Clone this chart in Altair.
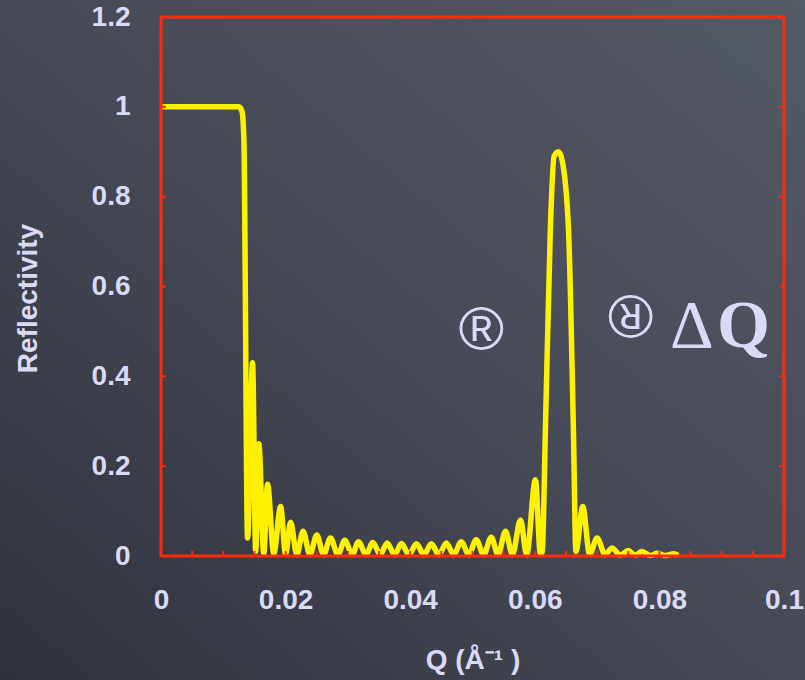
import altair as alt
import pandas as pd

# Reflectivity curve: momentum transfer Q (1/Å) and reflectivity R
q_vals = [
    0.0, 0.0125, 0.0130, 0.0133, 0.0139, 0.0147, 0.0152, 0.0157, 0.0165, 0.0171,
    0.0181, 0.0192, 0.0200, 0.0208, 0.0218, 0.0228, 0.0239, 0.0250, 0.0261, 0.0272,
    0.0284, 0.0295, 0.0307, 0.0317, 0.0329, 0.0340, 0.0352, 0.0363, 0.0375, 0.0386,
    0.0398, 0.0410, 0.0422, 0.0434, 0.0446, 0.0458, 0.0470, 0.0482, 0.0494, 0.0506,
    0.0518, 0.0530, 0.0541, 0.0553, 0.0564, 0.0577, 0.0587, 0.0601, 0.0609, 0.0612,
    0.0617, 0.0625, 0.0631, 0.0638, 0.0644, 0.0654, 0.0662, 0.0666, 0.0677, 0.0688,
    0.0700, 0.0713, 0.0724, 0.0737, 0.0750, 0.0761, 0.0772, 0.0785, 0.0797, 0.0810,
    0.0823, 0.0830,
]
r_vals = [
    1.0, 1.0, 0.99, 0.93, 0.04, 0.43, 0.01, 0.25, 0.005, 0.16,
    0.005, 0.11, 0.004, 0.075, 0.003, 0.055, 0.003, 0.047, 0.003, 0.040,
    0.003, 0.035, 0.003, 0.032, 0.003, 0.030, 0.003, 0.029, 0.003, 0.028,
    0.003, 0.027, 0.003, 0.027, 0.003, 0.029, 0.003, 0.032, 0.003, 0.036,
    0.003, 0.042, 0.003, 0.055, 0.003, 0.080, 0.003, 0.17, 0.003, 0.01,
    0.28, 0.73, 0.89, 0.90, 0.88, 0.73, 0.28, 0.01, 0.11, 0.004,
    0.04, 0.003, 0.018, 0.002, 0.012, 0.002, 0.010, 0.001, 0.006, 0.001,
    0.005, 0.001,
]

# Axis ticks
x_label_vals = [0.0, 0.02, 0.04, 0.06, 0.08, 0.1]
x_minor_ticks = [0.005, 0.01, 0.015, 0.02, 0.025, 0.03, 0.035, 0.04, 0.045, 0.05,
                 0.055, 0.06, 0.065, 0.07, 0.075, 0.08, 0.085, 0.09, 0.095]
y_label_vals = [0.0, 0.2, 0.4, 0.6, 0.8, 1.0, 1.2]
y_ticks = [0.2, 0.4, 0.6, 0.8, 1.0]

# Annotations
mark_q = [0.0514, 0.0754]
mark_r = [0.50, 0.538]
mark_angle = [0, 180]
delta_q = [0.0852]
q_letter_q = [0.0935]
dq_r = [0.465]

W, H = 623, 539
PAD = {"left": 161, "top": 17, "right": 21, "bottom": 124}
RED = "#ff2a0a"
LAV = "#dadaf6"

curve = pd.DataFrame({"Q": q_vals, "R": r_vals})
one = pd.DataFrame({"k": [0]})

xs = alt.Scale(domain=[0, 0.1], nice=False, zero=False)
ys = alt.Scale(domain=[0, 1.2], nice=False, zero=False)

x_axis = alt.Axis(
    values=x_label_vals, format="~g", title="Q (Å⁻¹ )", zindex=2,
    labelPadding=30, labelFlush=False, titleX=W / 2, titleY=104,
    titleBaseline="middle", titleAlign="center")
y_axis = alt.Axis(
    values=y_label_vals, format="~g", title="Reflectivity", zindex=2,
    labelPadding=31, labelFlush=False, titleX=-133, titleY=281, titleAngle=270,
    titleBaseline="middle", titleAlign="center")

# Slate backdrop, a little lighter towards the upper right
background = alt.Chart(one).mark_rect(
    fill=alt.Gradient(
        gradient="linear", x1=1, y1=0, x2=0, y2=1,
        stops=[alt.GradientStop(color="#545966", offset=0),
               alt.GradientStop(color="#464a56", offset=0.5),
               alt.GradientStop(color="#2f323b", offset=1)],
    )
).encode(
    x=alt.value(-PAD["left"]), x2=alt.value(W + PAD["right"]),
    y=alt.value(-PAD["top"]), y2=alt.value(H + PAD["bottom"]),
)

line = alt.Chart(curve).mark_line(
    color="#fff200", strokeWidth=5.5, interpolate="monotone", strokeJoin="round"
).encode(
    x=alt.X("Q:Q", scale=xs, axis=x_axis),
    y=alt.Y("R:Q", scale=ys, axis=y_axis),
)

frame = alt.Chart(one).mark_rect(
    fillOpacity=0, stroke=RED, strokeWidth=3
).encode(x=alt.value(0), x2=alt.value(W), y=alt.value(0), y2=alt.value(H))

xt = alt.Chart(pd.DataFrame({"t": x_minor_ticks})).mark_rule(
    color=RED, strokeWidth=2
).encode(x=alt.X("t:Q", scale=xs, axis=x_axis), y=alt.value(H), y2=alt.value(H - 5))

yt_left = alt.Chart(pd.DataFrame({"t": y_ticks})).mark_rule(
    color=RED, strokeWidth=2
).encode(y=alt.Y("t:Q", scale=ys, axis=y_axis), x=alt.value(0), x2=alt.value(5))

yt_right = alt.Chart(pd.DataFrame({"t": y_ticks})).mark_rule(
    color=RED, strokeWidth=2
).encode(y=alt.Y("t:Q", scale=ys, axis=y_axis), x=alt.value(W), x2=alt.value(W - 5))

reg = alt.Chart(pd.DataFrame({"q": mark_q, "r": mark_r, "a": mark_angle})).mark_text(
    text="®", font="Liberation Sans", fontSize=62, color=LAV,
    baseline="middle", align="center"
).encode(
    x=alt.X("q:Q", scale=xs, axis=x_axis), y=alt.Y("r:Q", scale=ys, axis=y_axis),
    angle=alt.Angle("a:Q", scale=None),
)

delta = alt.Chart(pd.DataFrame({"q": delta_q, "r": dq_r})).mark_text(
    text="Δ", font="Liberation Serif", fontSize=68, color=LAV,
    baseline="alphabetic", align="center"
).encode(x=alt.X("q:Q", scale=xs, axis=x_axis), y=alt.Y("r:Q", scale=ys, axis=y_axis))

qlet = alt.Chart(pd.DataFrame({"q": q_letter_q, "r": dq_r})).mark_text(
    text="Q", font="Liberation Serif", fontSize=68, fontWeight="bold", color=LAV,
    baseline="alphabetic", align="center"
).encode(x=alt.X("q:Q", scale=xs, axis=x_axis), y=alt.Y("r:Q", scale=ys, axis=y_axis))

chart = alt.layer(
    background, line, frame, xt, yt_left, yt_right, reg, delta, qlet
).properties(
    width=W, height=H, padding=PAD, autosize=alt.AutoSizeParams(type="none"),
    background="#3a3e48",
).configure_view(
    stroke=None
).configure_axis(
    domain=False, ticks=False, grid=False,
    labelFont="Liberation Sans", labelFontSize=28, labelFontWeight="bold",
    labelColor=LAV,
    titleFont="Liberation Sans", titleFontSize=28, titleFontWeight="bold",
    titleColor=LAV,
)

chart.save("out.html", embed_options={"renderer": "svg", "actions": False})
